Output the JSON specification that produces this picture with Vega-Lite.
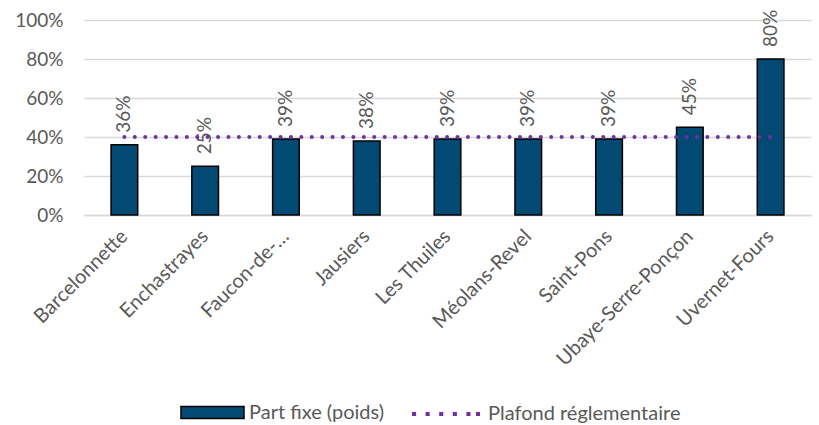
{
  "$schema": "https://vega.github.io/schema/vega-lite/v6.json",
  "width": 727,
  "height": 195,
  "autosize": "none",
  "padding": {"left": 84, "top": 20, "right": 8, "bottom": 210},
  "background": "white",
  "config": {
    "font": "Lato",
    "view": {"stroke": null},
    "axis": {"labelColor": "#595959", "labelFont": "Lato", "ticks": false, "title": null},
    "axisY": {
      "values": [0, 0.2, 0.4, 0.6, 0.8, 1],
      "format": ".0%",
      "domain": false,
      "labelOverlap": false,
      "labelFontSize": 19,
      "gridColor": "#D9D9D9",
      "gridWidth": 1.3,
      "labelPadding": 21
    }
  },
  "data": {
    "values": [
      {"commune": "Barcelonnette", "part": 0.36, "plafond": 0.4},
      {"commune": "Enchastrayes", "part": 0.25, "plafond": 0.4},
      {"commune": "Faucon-de-…", "part": 0.39, "plafond": 0.4},
      {"commune": "Jausiers", "part": 0.38, "plafond": 0.4},
      {"commune": "Les Thuiles", "part": 0.39, "plafond": 0.4},
      {"commune": "Méolans-Revel", "part": 0.39, "plafond": 0.4},
      {"commune": "Saint-Pons", "part": 0.39, "plafond": 0.4},
      {"commune": "Ubaye-Serre-Ponçon", "part": 0.45, "plafond": 0.4},
      {"commune": "Uvernet-Fours", "part": 0.80, "plafond": 0.4}
    ]
  },
  "encoding": {
    "x": {
      "field": "commune",
      "type": "nominal",
      "sort": null,
      "scale": {"paddingInner": 0.67, "paddingOuter": 0.335},
      "axis": {
        "labelAngle": -45,
        "labelAlign": "right",
        "labelBaseline": "middle",
        "labelPadding": 18,
        "labelFontSize": 20,
        "labelLimit": 300,
        "domainColor": "#D9D9D9",
        "domainWidth": 1.5,
        "grid": false
      }
    }
  },
  "layer": [
    {
      "mark": {"type": "bar", "stroke": "black", "strokeWidth": 1.5},
      "encoding": {
        "y": {
          "field": "part",
          "type": "quantitative",
          "scale": {"domain": [0, 1], "nice": false},
          "axis": {"format": ".0%"}
        },
        "fill": {
          "datum": "Part fixe (poids)",
          "type": "nominal",
          "scale": {"range": ["#024A74"]},
          "legend": {
            "title": null,
            "orient": "none",
            "legendX": 96,
            "legendY": 360,
            "labelFontSize": 20,
            "labelColor": "#595959",
            "labelFont": "Lato",
            "labelLimit": 300,
            "labelOffset": 4,
            "symbolType": "M-1,-0.19H1V0.19H-1Z",
            "symbolSize": 3969,
            "symbolStrokeColor": "black",
            "symbolStrokeWidth": 1.5
          }
        }
      }
    },
    {
      "mark": {"type": "text", "angle": -90, "align": "left", "baseline": "middle", "dx": 12, "fontSize": 19, "color": "#595959", "font": "Lato"},
      "encoding": {
        "y": {"field": "part", "type": "quantitative", "axis": {"format": ".0%"}},
        "text": {"field": "part", "type": "quantitative", "format": ".0%"}
      }
    },
    {
      "mark": {"type": "line", "strokeWidth": 4, "strokeCap": "round", "strokeDash": [0.01, 10.4]},
      "encoding": {
        "y": {"field": "plafond", "type": "quantitative", "axis": {"format": ".0%"}},
        "stroke": {
          "datum": "Plafond réglementaire",
          "type": "nominal",
          "scale": {"range": ["#7030A0"]},
          "legend": {
            "title": null,
            "orient": "none",
            "legendX": 328,
            "legendY": 360,
            "labelFontSize": 20,
            "labelColor": "#595959",
            "labelFont": "Lato",
            "labelLimit": 300,
            "labelOffset": 8,
            "symbolType": "M-1,-0.06H-0.88V0.06H-1ZM-0.6,-0.06H-0.48V0.06H-0.6ZM-0.2,-0.06H-0.08V0.06H-0.2ZM0.2,-0.06H0.32V0.06H0.2ZM0.6,-0.06H0.72V0.06H0.6ZM0.88,-0.06H1V0.06H0.88Z",
            "symbolSize": 4624,
            "symbolFillColor": "#7030A0",
            "symbolStrokeWidth": 0,
            "encode": {"symbols": {"update": {"fill": {"value": "#7030A0"}, "strokeWidth": {"value": 0}}}}
          }
        }
      }
    }
  ]
}
